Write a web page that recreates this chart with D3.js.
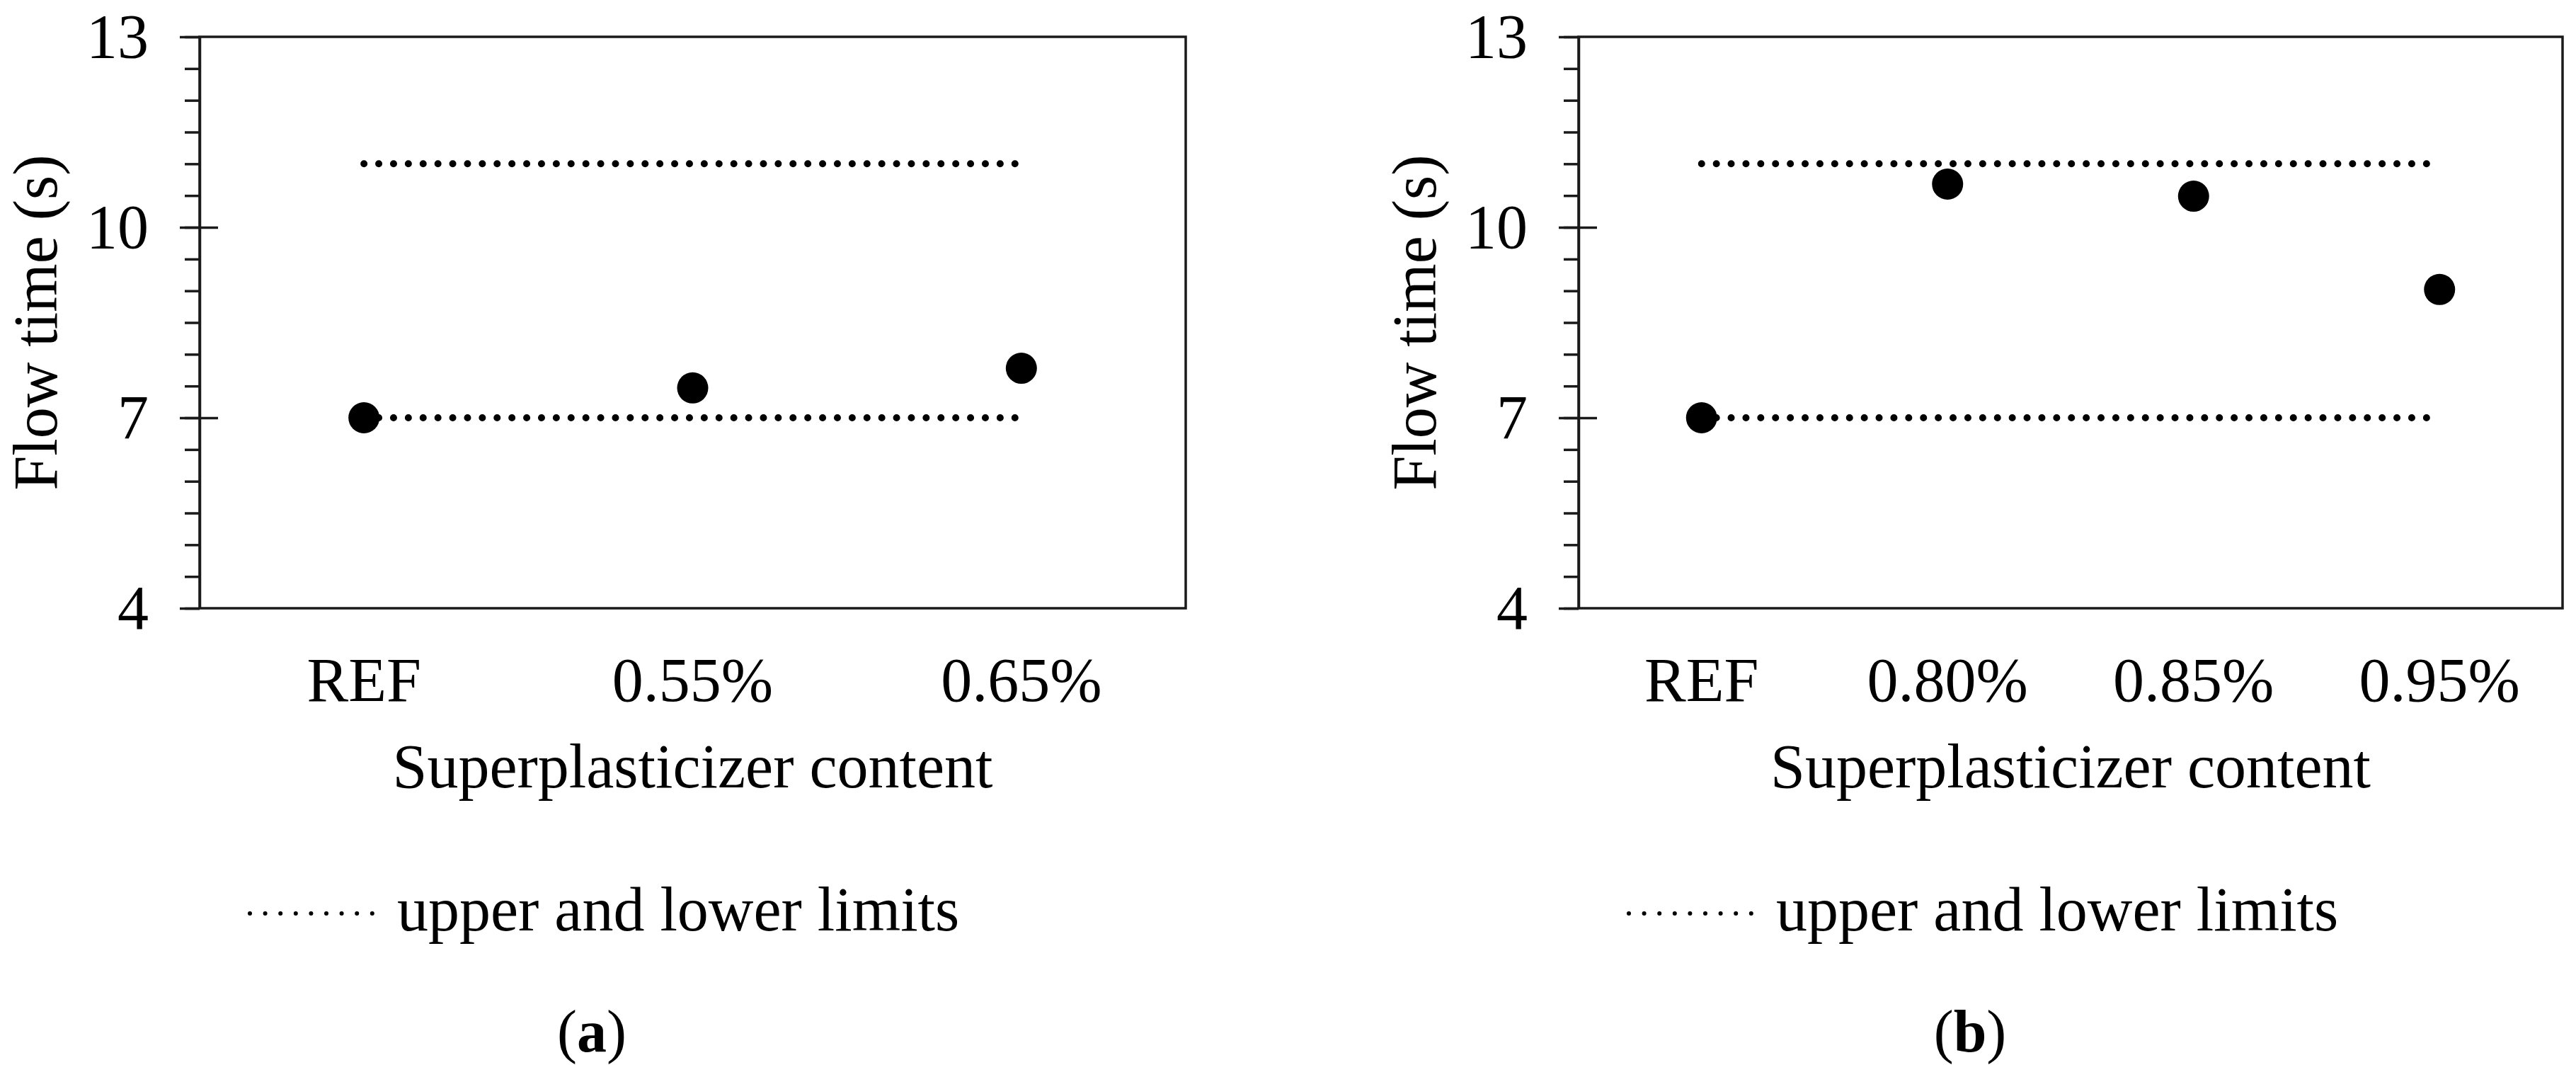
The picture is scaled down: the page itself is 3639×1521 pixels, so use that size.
<!DOCTYPE html>
<html>
<head>
<meta charset="utf-8">
<script src="https://cdn.jsdelivr.net/npm/d3@7"></script>
<style>
  html, body { margin: 0; padding: 0; background: #fff; }
  svg { display: block; }
  text { font-family: "Liberation Serif", "Times New Roman", serif; fill: #000; }
</style>
</head>
<body>
<svg id="chart" width="3639" height="1521"></svg>
<script>
// ---- data ----
const categoriesA = ["REF", "0.55%", "0.65%"];
const flowTimeA   = [7.0, 7.47, 7.78];
const categoriesB = ["REF", "0.80%", "0.85%", "0.95%"];
const flowTimeB   = [7.0, 10.68, 10.49, 9.02];
const limits      = [7, 11];            // lower and upper limits (s)
const yTicks      = [4, 7, 10, 13];
const yDomain     = [4, 13];
const minorStep   = 0.5;
const yLabel      = "Flow time (s)";
const xLabel      = "Superplasticizer content";
const legendLabel = "upper and lower limits";
const panelTags   = ["a", "b"];

// ---- layout ----
const svg = d3.select("#chart");
const plotTop = 52, plotBottom = 859;
const panels = [
  { cats: categoriesA, vals: flowTimeA, left: 282, right: 1675, legX: 350, legW: 177, tagX: 836 },
  { cats: categoriesB, vals: flowTimeB, left: 2230, right: 3620, legX: 2298, legW: 177, tagX: 2783 }
];
const FS = 88;
const lineColor = "#1a1a1a";

panels.forEach((p, pi) => {
  const g = svg.append("g");
  const x = d3.scaleBand().domain(p.cats).range([p.left, p.right]).paddingInner(0).paddingOuter(0);
  const y = d3.scaleLinear().domain(yDomain).range([plotBottom, plotTop]);
  const cx = d => x(d) + x.bandwidth() / 2;

  // frame
  g.append("rect")
    .attr("x", p.left).attr("y", plotTop)
    .attr("width", p.right - p.left).attr("height", plotBottom - plotTop)
    .attr("fill", "none").attr("stroke", lineColor).attr("stroke-width", 3.5);

  // minor ticks (outside)
  const minor = d3.range(yDomain[0], yDomain[1] + 1e-9, minorStep);
  const minorAxis = d3.axisLeft(y).tickValues(minor).tickSize(21).tickFormat("");
  const gm = g.append("g").attr("transform", `translate(${p.left},0)`).call(minorAxis);
  gm.select(".domain").remove();
  gm.selectAll(".tick line").attr("stroke", lineColor).attr("stroke-width", 3.5);

  // major ticks (cross the axis) + labels
  const majorAxis = d3.axisLeft(y).tickValues(yTicks).tickSizeInner(28).tickSizeOuter(0)
    .tickPadding(44).tickFormat(d3.format("d"));
  const ga = g.append("g").attr("transform", `translate(${p.left},0)`).call(majorAxis);
  ga.select(".domain").attr("stroke", lineColor).attr("stroke-width", 3.5);
  ga.selectAll(".tick line").attr("stroke", lineColor).attr("stroke-width", 3.5);
  ga.selectAll(".tick").filter(d => d > yDomain[0] && d < yDomain[1])
    .append("line").attr("x1", 0).attr("x2", 26).attr("y1", 0).attr("y2", 0)
    .attr("stroke", lineColor).attr("stroke-width", 3.5);
  ga.selectAll(".tick text")
    .attr("font-family", "Liberation Serif, Times New Roman, serif")
    .attr("font-size", FS).attr("fill", "#000").attr("dy", "0.32em");

  // x axis labels
  const xAxis = d3.axisBottom(x).tickSize(0).tickPadding(0);
  const gx = g.append("g").attr("transform", `translate(0,${plotBottom})`).call(xAxis);
  gx.select(".domain").remove();
  gx.selectAll(".tick text")
    .attr("font-family", "Liberation Serif, Times New Roman, serif")
    .attr("font-size", FS).attr("fill", "#000")
    .attr("y", 131).attr("dy", 0);

  // axis titles
  g.append("text")
    .attr("transform", `translate(${p.left - 202},${(plotTop + plotBottom) / 2}) rotate(-90)`)
    .attr("text-anchor", "middle").attr("font-size", FS).text(yLabel);
  g.append("text")
    .attr("x", (p.left + p.right) / 2).attr("y", 1112)
    .attr("text-anchor", "middle").attr("font-size", FS).text(xLabel);

  // limit lines
  const first = p.cats[0], last = p.cats[p.cats.length - 1];
  g.selectAll(".limit").data(limits).join("line")
    .attr("class", "limit")
    .attr("x1", cx(first)).attr("x2", cx(last))
    .attr("y1", d => y(d)).attr("y2", d => y(d))
    .attr("stroke", "#000").attr("stroke-width", 10)
    .attr("stroke-linecap", "round").attr("stroke-dasharray", "0 20.9");

  // points
  g.selectAll(".pt").data(p.vals).join("circle")
    .attr("class", "pt")
    .attr("cx", (d, i) => cx(p.cats[i])).attr("cy", d => y(d))
    .attr("r", 22).attr("fill", "#000");

  // legend
  const ly = 1290;
  g.append("line")
    .attr("x1", p.legX + 3).attr("x2", p.legX + p.legW)
    .attr("y1", ly).attr("y2", ly)
    .attr("stroke", "#000").attr("stroke-width", 6)
    .attr("stroke-linecap", "round").attr("stroke-dasharray", "0 21.6");
  g.append("text")
    .attr("x", p.legX + p.legW + 34).attr("y", 1314)
    .attr("font-size", FS).text(legendLabel);

  // panel tag
  const t = g.append("text")
    .attr("x", p.tagX).attr("y", 1485)
    .attr("text-anchor", "middle").attr("font-size", 84);
  t.append("tspan").text("(");
  t.append("tspan").attr("font-weight", "bold").text(panelTags[pi]);
  t.append("tspan").text(")");
});
</script>
</body>
</html>
